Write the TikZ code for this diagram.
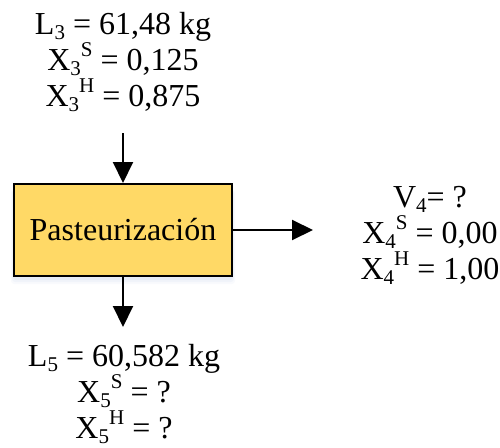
\documentclass[tikz,border=0pt]{standalone}
\usepackage{fontspec}
\setmainfont{Liberation Serif}
\usetikzlibrary{arrows.meta}
\definecolor{boxfill}{RGB}{255,217,102}
\definecolor{glow}{RGB}{150,175,215}
\newcommand\mysub[1]{\raisebox{-0.17em}{\fontsize{21}{21}\selectfont #1}}
\newcommand\mysup[1]{\raisebox{0.42em}{\fontsize{21}{21}\selectfont #1}}
\begin{document}
\begin{tikzpicture}[x=1pt,y=-1pt,
  every node/.style={font=\fontsize{32}{36}\selectfont},
  procbox/.style={draw=black,line width=2pt,fill=boxfill,minimum width=218pt,minimum height=92pt,inner sep=0pt},
  labelblock/.style={align=center,inner sep=0pt,anchor=base},
  arr/.style={line width=2pt,-{Triangle[width=20pt,length=21pt]}}]
\useasboundingbox (0,0) rectangle (500,447);
% soft glow below the box
\foreach \d/\o in {6/0.06,4/0.08,2/0.1}{
  \fill[glow,opacity=\o,rounded corners=3pt] (14-\d/2,190) rectangle (232+\d/2,278+\d);
}
\node[procbox] (p) at (123,230) {Pasteurización};
\node[labelblock] (in) at (123,106) {L\mysub{3} = 61,48 kg\\X\mysub{3}\mysup{S} = 0,125\\X\mysub{3}\mysup{H} = 0,875};
\node[labelblock] (vap) at (430,279) {V\mysub{4}= ?\\X\mysub{4}\mysup{S} = 0,00\\X\mysub{4}\mysup{H} = 1,00};
\node[labelblock] (out) at (124,438) {L\mysub{5} = 60,582 kg\\X\mysub{5}\mysup{S} = ?\\X\mysub{5}\mysup{H} = ?};
\coordinate (ta) at (123,133);
\coordinate (ra) at (313,230);
\coordinate (ba) at (123,327);
\draw[arr] (ta) -- (p.north);
\draw[arr] (p.east) -- (ra);
\draw[arr] (p.south) -- (ba);
\end{tikzpicture}
\end{document}
